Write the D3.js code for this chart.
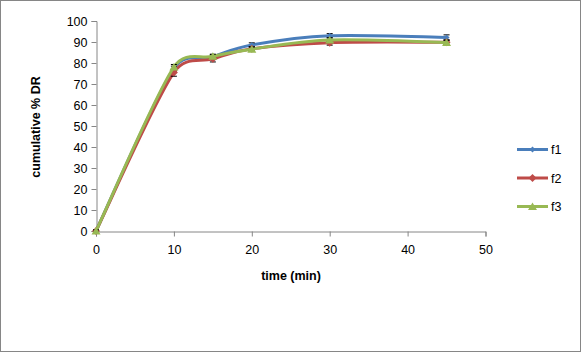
<!DOCTYPE html>
<html><head><meta charset="utf-8">
<script src="https://cdn.jsdelivr.net/npm/d3@7"></script>
<style>body{margin:0;background:#fff}svg{display:block}</style>
</head><body>
<script>
const times = [0, 10, 15, 20, 30, 45];
const f1 = [0, 77.3, 83, 88.6, 93, 92.2];
const f2 = [0, 75.5, 82, 86.8, 89.7, 89.9];
const f3 = [0, 78.1, 83.2, 86.6, 91, 89.8];
const err1 = [0.5, 1.2, 1.0, 1.0, 1.0, 1.2];
const err2 = [0.5, 1.8, 1.5, 1.0, 1.2, 1.0];
const err3 = [0.5, 1.2, 1.0, 1.0, 1.0, 1.0];
const seriesNames = ["f1", "f2", "f3"];
const xTicks = [0, 10, 20, 30, 40, 50];
const yTicks = [0, 10, 20, 30, 40, 50, 60, 70, 80, 90, 100];

const W = 585, H = 356;
const svg = d3.select("body").append("svg").attr("width", W).attr("height", H);
svg.append("rect").attr("x", 0.5).attr("y", 0.5).attr("width", 580).attr("height", 351)
  .attr("fill", "#fff").attr("stroke", "#868686").attr("stroke-width", 1);

const x = d3.scaleLinear().domain([0, 50]).range([96, 485.5]);
const y = d3.scaleLinear().domain([0, 100]).range([231, 21]);
const font = "'Liberation Sans', Arial, sans-serif";

const xa = svg.append("g").attr("transform", "translate(0,231.5)")
  .call(d3.axisBottom(x).tickValues(xTicks).tickSize(5).tickPadding(9));
const ya = svg.append("g").attr("transform", "translate(96.5,0)")
  .call(d3.axisLeft(y).tickValues(yTicks).tickSize(5).tickPadding(4));
[xa, ya].forEach(a => {
  a.select(".domain").attr("stroke", "#868686");
  a.selectAll(".tick line").attr("stroke", "#868686");
  a.selectAll("text").attr("font-family", font).attr("font-size", 12.5).attr("fill", "#000");
});

svg.append("text").attr("x", 291).attr("y", 280).attr("text-anchor", "middle")
  .attr("font-family", font).attr("font-weight", "bold").attr("font-size", 12.5).text("time (min)");
svg.append("text").attr("transform", "translate(40,127) rotate(-90)").attr("text-anchor", "middle")
  .attr("font-family", font).attr("font-weight", "bold").attr("font-size", 12.5).text("cumulative % DR");

const colors = ["#4A7EBB", "#BE4B48", "#98B954"];
const data = [f1, f2, f3];
const errs = [err1, err2, err3];

// Excel-style smoothed line: cubic Bezier with tangent factor 1/6, capped at half segment length
function smoothPath(pts) {
  const p = d3.path();
  const dist = (a, b) => Math.hypot(b[0] - a[0], b[1] - a[1]);
  p.moveTo(pts[0][0], pts[0][1]);
  for (let i = 0; i < pts.length - 1; i++) {
    const P1 = pts[i], P2 = pts[i + 1];
    const P0 = i > 0 ? pts[i - 1] : P1;
    const P3 = i < pts.length - 2 ? pts[i + 2] : P2;
    const d12 = dist(P1, P2), d02 = dist(P0, P2), d13 = dist(P1, P3);
    let f1 = 1 / 6, f2 = 1 / 6;
    if (d02 / 6 > d12 / 2) f1 = d12 / (2 * d02);
    if (d13 / 6 > d12 / 2) f2 = d12 / (2 * d13);
    const c1 = [P1[0] + f1 * (P2[0] - P0[0]), P1[1] + f1 * (P2[1] - P0[1])];
    const c2 = [P2[0] - f2 * (P3[0] - P1[0]), P2[1] - f2 * (P3[1] - P1[1])];
    p.bezierCurveTo(c1[0], c1[1], c2[0], c2[1], P2[0], P2[1]);
  }
  return p.toString();
}

function marker(g, i, cx, cy) {
  if (i === 0) {
    g.append("path").attr("d", `M${cx},${cy-3}L${cx+3},${cy}L${cx},${cy+3}L${cx-3},${cy}Z`).attr("fill", colors[0]);
  } else if (i === 1) {
    g.append("path").attr("d", `M${cx},${cy-4}L${cx+4},${cy}L${cx},${cy+4}L${cx-4},${cy}Z`).attr("fill", colors[1]);
  } else {
    g.append("path").attr("d", `M${cx},${cy-4}L${cx+4.5},${cy+3.5}L${cx-4.5},${cy+3.5}Z`).attr("fill", colors[2]);
  }
}

data.forEach((vals, i) => {
  const pts = times.map((t, j) => [x(t), y(vals[j])]);
  const g = svg.append("g");
  g.append("path").attr("d", smoothPath(pts)).attr("fill", "none")
    .attr("stroke", colors[i]).attr("stroke-width", 3).attr("stroke-linecap", "round");
  times.forEach((t, j) => {
    const cx = x(t), e = errs[i][j], v = vals[j];
    const y1 = y(v + e), y2 = y(v - e);
    g.append("line").attr("x1", cx).attr("x2", cx).attr("y1", y1).attr("y2", y2).attr("stroke", "#000");
    g.append("line").attr("x1", cx - 3).attr("x2", cx + 3).attr("y1", y1).attr("y2", y1).attr("stroke", "#000");
    g.append("line").attr("x1", cx - 3).attr("x2", cx + 3).attr("y1", y2).attr("y2", y2).attr("stroke", "#000");
    marker(g, i, cx, y(v));
  });
});

const legY = [149.5, 178, 206.5];
seriesNames.forEach((n, i) => {
  const g = svg.append("g");
  g.append("line").attr("x1", 517).attr("x2", 548).attr("y1", legY[i]).attr("y2", legY[i])
    .attr("stroke", colors[i]).attr("stroke-width", 3);
  marker(g, i, 532.5, legY[i]);
  g.append("text").attr("x", 551).attr("y", legY[i] + 4.5).attr("font-family", font)
    .attr("font-size", 12.5).text(n);
});
</script>
</body></html>
